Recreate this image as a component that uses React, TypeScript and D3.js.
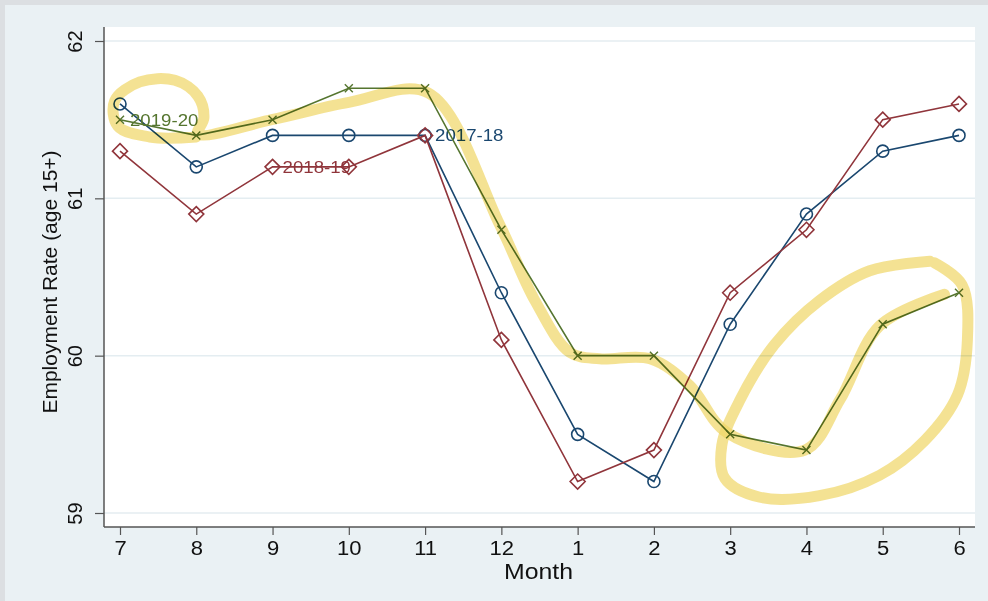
import { useEffect, useRef } from 'react';
import * as d3 from 'd3';

const months = ['7', '8', '9', '10', '11', '12', '1', '2', '3', '4', '5', '6'];
const yTicks = [59, 60, 61, 62];

const rate1718 = [61.6, 61.2, 61.4, 61.4, 61.4, 60.4, 59.5, 59.2, 60.2, 60.9, 61.3, 61.4];
const rate1819 = [61.3, 60.9, 61.2, 61.2, 61.4, 60.1, 59.2, 59.4, 60.4, 60.8, 61.5, 61.6];
const rate1920 = [61.5, 61.4, 61.5, 61.7, 61.7, 60.8, 60.0, 60.0, 59.5, 59.4, 60.2, 60.4];

// hand-drawn highlighter strokes, as [month position, rate]
const markerTrail: [number, number][] = [
  [1.0, 61.39], [0.39, 61.39], [-0.03, 61.46], [-0.07, 61.62], [0.26, 61.74], [0.72, 61.75],
  [1.02, 61.65], [1.1, 61.51], [1.02, 61.41], [1.99, 61.5], [3.0, 61.61], [4.04, 61.67],
  [4.98, 60.83], [5.44, 60.35], [5.9, 60.02], [6.29, 59.98], [6.95, 59.98], [7.47, 59.81],
  [7.96, 59.51], [8.98, 59.4], [9.44, 59.72], [9.96, 60.19], [10.81, 60.39],
];
const markerLoop: [number, number][] = [
  [10.68, 60.59], [11.04, 60.45], [11.11, 60.1], [10.98, 59.75], [10.55, 59.46], [9.96, 59.24],
  [9.17, 59.11], [8.39, 59.1], [7.93, 59.22], [7.89, 59.43], [8.13, 59.72], [8.58, 60.07],
  [9.17, 60.35], [9.83, 60.54], [10.62, 60.6],
];

const series = [
  { name: '2017-18', values: rate1718, color: '#1a476f', symbol: 'circle', labelAt: 4 },
  { name: '2018-19', values: rate1819, color: '#90353b', symbol: 'diamond', labelAt: 2 },
  { name: '2019-20', values: rate1920, color: '#55752f', symbol: 'x', labelAt: 0 },
];

export default function App() {
  const svgRef = useRef<SVGSVGElement | null>(null);

  useEffect(() => {
    if (!svgRef.current) return;
    const width = 988;
    const height = 601;
    const font = '"Liberation Sans", Arial, sans-serif';
    const stretch = 1.13; // the picture is a little wider than tall

    const svg = d3.select(svgRef.current).attr('width', width).attr('height', height);
    svg.selectAll('*').remove();

    // background: outer grey frame, bluish graph region, white plot region
    svg.append('rect').attr('width', width).attr('height', height).attr('fill', '#dcdfe2');
    svg.append('rect').attr('x', 5).attr('y', 5).attr('width', width - 5).attr('height', height - 5).attr('fill', '#eaf1f4');

    const plot = { left: 104, right: 975, top: 27, bottom: 527 };
    svg
      .append('rect')
      .attr('x', plot.left)
      .attr('y', plot.top)
      .attr('width', plot.right - plot.left)
      .attr('height', plot.bottom - plot.top)
      .attr('fill', '#ffffff');

    const x = d3.scalePoint<string>().domain(months).range([120, 959]);
    const xi = d3.scaleLinear().domain([0, months.length - 1]).range([120, 959]);
    const y = d3.scaleLinear().domain([59, 62]).range([513, 41]);

    // gridlines
    svg
      .append('g')
      .selectAll('line')
      .data(yTicks)
      .enter()
      .append('line')
      .attr('x1', plot.left)
      .attr('x2', plot.right)
      .attr('y1', (d) => y(d))
      .attr('y2', (d) => y(d))
      .attr('stroke', '#e4edf1')
      .attr('stroke-width', 1.5);

    // axes
    const yAxis = svg
      .append('g')
      .attr('transform', `translate(${plot.left},0)`)
      .call(d3.axisLeft(y).tickValues(yTicks).tickFormat(d3.format('d')).tickSize(9).tickSizeOuter(0));
    yAxis.select('.domain').attr('d', `M0,${plot.top}V${plot.bottom}`).attr('stroke', '#555').attr('stroke-width', 1.5);
    yAxis.selectAll('.tick line').attr('stroke', '#555').attr('stroke-width', 1.2);
    yAxis
      .selectAll('.tick text')
      .attr('font-family', font)
      .attr('font-size', 20)
      .attr('fill', '#111')
      .attr('text-anchor', 'middle')
      .attr('x', -22)
      .attr('dy', 0)
      .attr('transform', 'rotate(-90,-22,0)');

    const xAxis = svg
      .append('g')
      .attr('transform', `translate(0,${plot.bottom})`)
      .call(d3.axisBottom(x).tickSize(8).tickSizeOuter(0));
    xAxis.select('.domain').attr('d', `M${plot.left},0H${plot.right}`).attr('stroke', '#555').attr('stroke-width', 1.5);
    xAxis.selectAll('.tick line').attr('stroke', '#555').attr('stroke-width', 1.2);
    xAxis
      .selectAll('.tick text')
      .attr('font-family', font)
      .attr('font-size', 19.5)
      .attr('fill', '#111')
      .attr('y', 28)
      .attr('dy', 0)
      .attr('transform', `scale(${stretch},1)`);

    svg
      .append('text')
      .attr('transform', `translate(${(plot.left + plot.right) / 2 - 1},579) scale(${stretch},1)`)
      .attr('text-anchor', 'middle')
      .attr('font-family', font)
      .attr('font-size', 22)
      .attr('fill', '#111')
      .text('Month');

    svg
      .append('text')
      .attr('transform', `translate(57,282) rotate(-90)`)
      .attr('text-anchor', 'middle')
      .attr('font-family', font)
      .attr('font-size', 21)
      .attr('fill', '#111')
      .text('Employment Rate (age 15+)');

    // series
    const line = d3
      .line<number>()
      .x((_, i) => x(months[i]) as number)
      .y((d) => y(d));

    const layer = svg.append('g');
    series.forEach((s) => {
      layer
        .append('path')
        .attr('d', line(s.values))
        .attr('fill', 'none')
        .attr('stroke', s.color)
        .attr('stroke-width', 1.6);

      const pts = layer
        .append('g')
        .selectAll('g')
        .data(s.values)
        .enter()
        .append('g')
        .attr('transform', (d, i) => `translate(${x(months[i])},${y(d)})`);

      if (s.symbol === 'circle') {
        pts.append('circle').attr('r', 6).attr('fill', 'none').attr('stroke', s.color).attr('stroke-width', 1.6);
      } else if (s.symbol === 'diamond') {
        pts
          .append('path')
          .attr('d', 'M0,-7.5L7.5,0L0,7.5L-7.5,0Z')
          .attr('fill', 'none')
          .attr('stroke', s.color)
          .attr('stroke-width', 1.6);
      } else {
        pts
          .append('path')
          .attr('d', 'M-4,-4L4,4M-4,4L4,-4')
          .attr('fill', 'none')
          .attr('stroke', s.color)
          .attr('stroke-width', 1.4);
      }

      layer
        .append('text')
        .attr(
          'transform',
          `translate(${(x(months[s.labelAt]) as number) + 10},${y(s.values[s.labelAt])}) scale(${stretch},1)`
        )
        .attr('dy', '0.36em')
        .attr('font-family', font)
        .attr('font-size', 16.5)
        .attr('fill', s.color)
        .text(s.name);
    });

    // highlighter
    const pen = d3
      .line<[number, number]>()
      .x((d) => xi(d[0]))
      .y((d) => y(d[1]))
      .curve(d3.curveCatmullRom.alpha(0.5));
    const marks = svg.append('g').style('mix-blend-mode', 'multiply');
    [markerTrail, markerLoop].forEach((m) => {
      marks
        .append('path')
        .attr('d', pen(m))
        .attr('fill', 'none')
        .attr('stroke', '#f0d565')
        .attr('stroke-opacity', 0.7)
        .attr('stroke-width', 11)
        .attr('stroke-linecap', 'round')
        .attr('stroke-linejoin', 'round');
    });
  }, []);

  return <svg ref={svgRef} style={{ position: 'absolute', left: 0, top: 0, display: 'block' }} />;
}
